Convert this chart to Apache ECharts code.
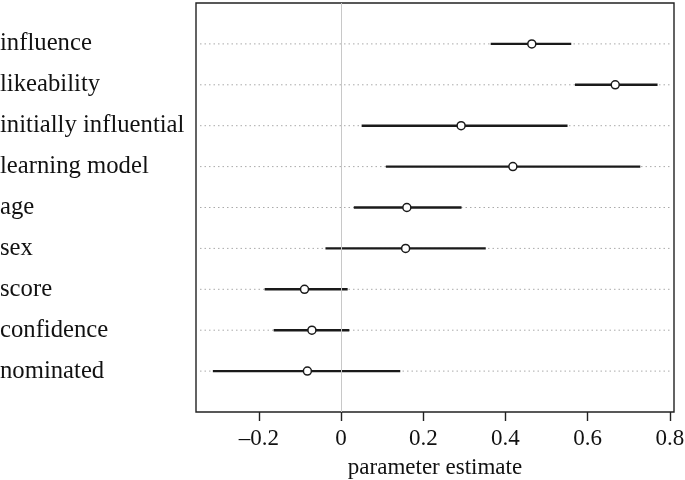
<!DOCTYPE html>
<html><head><meta charset="utf-8">
<script src="https://cdn.jsdelivr.net/npm/echarts@6/dist/echarts.min.js"></script>
<style>html,body{margin:0;padding:0;background:#fff}#c{width:685px;height:480px}</style>
</head><body><div id="c"></div>
<script>
const categories = ["influence","likeability","initially influential","learning model","age","sex","score","confidence","nominated"];
const estimates = [0.464,0.667,0.292,0.418,0.160,0.157,-0.089,-0.071,-0.082];
const lower = [0.364,0.569,0.050,0.109,0.031,-0.038,-0.186,-0.164,-0.312];
const upper = [0.560,0.770,0.551,0.728,0.293,0.352,0.016,0.020,0.144];
const xTicks = [-0.2,0,0.2,0.4,0.6,0.8];

const font = "'Liberation Serif', 'DejaVu Serif', serif";
const data = categories.map((c,i)=>[i+1, estimates[i], lower[i], upper[i]]);

const chart = echarts.init(document.getElementById('c'), null, {renderer:'canvas'});
chart.setOption({
  animation:false,
  grid:{left:196,right:11,top:3,bottom:68,containLabel:false,outerBoundsMode:'none',
    show:true,borderColor:'#222',borderWidth:1.4,backgroundColor:'transparent'},
  xAxis:{type:'value',min:-0.353,max:0.81,position:'bottom',
    axisLine:{show:false,onZero:false},
    axisTick:{show:true,length:9,inside:false,customValues:xTicks,lineStyle:{color:'#222',width:1.4}},
    axisLabel:{customValues:xTicks,margin:15,fontFamily:font,fontSize:23,color:'#111',
      formatter:v=>{const r=Math.round(v*10)/10; if(r===0) return '0'; return r<0?'\u2013'+Math.abs(r).toFixed(1):r.toFixed(1);}},
    splitLine:{show:false},
    name:'parameter estimate',nameLocation:'middle',nameGap:44,
    nameTextStyle:{fontFamily:font,fontSize:23,color:'#111'}
  },
  yAxis:{type:'value',min:0,max:10,interval:1,inverse:true,
    axisLine:{show:false},axisTick:{show:false},splitLine:{show:false},
    axisLabel:{align:'left',margin:196,fontFamily:font,fontSize:24.7,color:'#111',
      formatter:v=>(v>=1&&v<=9)?categories[v-1]:''}
  },
  series:[
    {type:'custom',data:data,z:2,
     renderItem:function(params,api){
       const y = api.value(0);
       const cs = params.coordSys;
       const pc = api.coord([api.value(1),y]);
       const pl = api.coord([api.value(2),y]);
       const pu = api.coord([api.value(3),y]);
       return {type:'group',children:[
         {type:'line',shape:{x1:cs.x+4,y1:pc[1],x2:cs.x+cs.width-2,y2:pc[1]},
          style:{stroke:'#aaa',lineWidth:1,lineDash:[1.5,3]}},
         {type:'line',shape:{x1:pl[0],y1:pl[1],x2:pu[0],y2:pu[1]},
          style:{stroke:'#1a1a1a',lineWidth:2.4}},
         {type:'circle',shape:{cx:pc[0],cy:pc[1],r:4},
          style:{fill:'#fff',stroke:'#1a1a1a',lineWidth:1.5}}
       ]};
     },
     markLine:{silent:true,symbol:['none','none'],label:{show:false},
       lineStyle:{color:'#c8c8c8',type:'solid',width:1},data:[{xAxis:0}]}
    }
  ]
});
</script></body></html>
